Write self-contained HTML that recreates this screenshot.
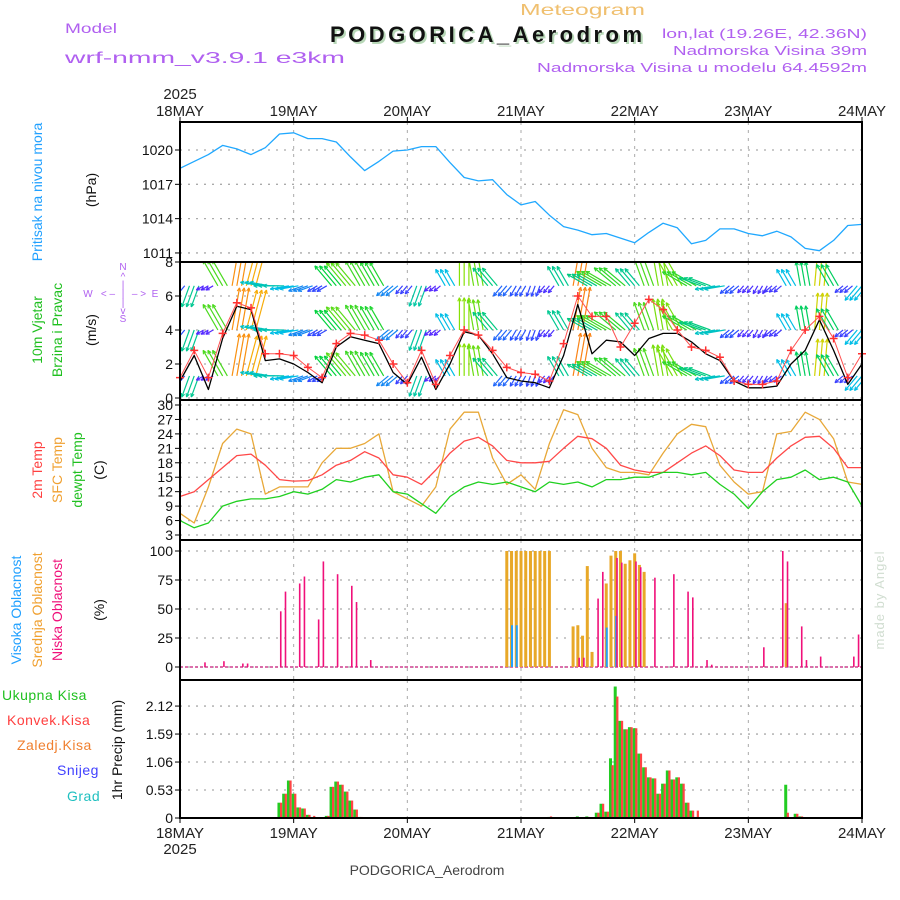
<!DOCTYPE html>
<html><head><meta charset="utf-8"><style>
html,body{margin:0;padding:0;background:#fff}
svg{display:block}
text{font-family:"Liberation Sans",sans-serif}
</style></head><body>
<svg id="chart" width="900" height="900" viewBox="0 0 900 900" xmlns="http://www.w3.org/2000/svg">
<defs><clipPath id="wclip"><rect x="180" y="262" width="682" height="138"/></clipPath></defs>
<rect width="900" height="900" fill="#fff"/>
<text x="520" y="15" font-size="16" fill="#f0c070" textLength="125" lengthAdjust="spacingAndGlyphs">Meteogram</text>
<text x="65" y="33" font-size="14" fill="#b060f0" textLength="52" lengthAdjust="spacingAndGlyphs">Model</text>
<text x="65" y="63" font-size="16" fill="#b060f0" textLength="280" lengthAdjust="spacingAndGlyphs">wrf-nmm_v3.9.1 e3km</text>
<text x="332" y="44" font-size="22" font-weight="bold" fill="#b8d8b8" font-family="Liberation Mono" textLength="312">PODGORICA_Aerodrom</text>
<text x="330" y="42" font-size="22" font-weight="bold" fill="#111" font-family="Liberation Mono" textLength="312">PODGORICA_Aerodrom</text>
<text x="662" y="38" font-size="13" fill="#b060f0" textLength="205" lengthAdjust="spacingAndGlyphs">lon,lat (19.26E, 42.36N)</text>
<text x="673" y="55" font-size="13" fill="#b060f0" textLength="194" lengthAdjust="spacingAndGlyphs">Nadmorska Visina 39m</text>
<text x="537" y="72" font-size="13" fill="#b060f0" textLength="330" lengthAdjust="spacingAndGlyphs">Nadmorska Visina u modelu 64.4592m</text>
<text x="180" y="99" font-size="15" fill="#222" text-anchor="middle">2025</text>
<text x="180" y="854" font-size="15" fill="#222" text-anchor="middle">2025</text>
<text x="427" y="875" font-size="14" fill="#444" font-family="Liberation Mono" text-anchor="middle">PODGORICA_Aerodrom</text>
<text transform="translate(884,600) rotate(-90)" font-size="13" fill="#d0ddd0" text-anchor="middle" letter-spacing="1">made by Angel</text>

<g>
<text transform="translate(42,192) rotate(-90)" font-size="14" fill="#20a0ff" text-anchor="middle">Pritisak na nivou mora</text>
<text transform="translate(96,190) rotate(-90)" font-size="14" fill="#111" text-anchor="middle">(hPa)</text>
<text transform="translate(42,330) rotate(-90)" font-size="14" fill="#20c020" text-anchor="middle">10m Vjetar</text>
<text transform="translate(62,330) rotate(-90)" font-size="14" fill="#20c020" text-anchor="middle">Brzina i Pravac</text>
<text transform="translate(96,330) rotate(-90)" font-size="14" fill="#111" text-anchor="middle">(m/s)</text>
<g font-size="10" fill="#b060f0" text-anchor="middle">
<text x="123" y="270">N</text><text x="123" y="280">^</text><text x="123" y="288">|</text>
<text x="88" y="297">W</text><text x="108" y="297">&lt; –</text><text x="123" y="297">|</text><text x="139" y="297">– &gt;</text><text x="155" y="297">E</text>
<text x="123" y="306">|</text><text x="123" y="314">v</text><text x="123" y="322">S</text>
</g>
<text transform="translate(42,470) rotate(-90)" font-size="14" fill="#ff4040" text-anchor="middle">2m Temp</text>
<text transform="translate(62,470) rotate(-90)" font-size="14" fill="#f0a030" text-anchor="middle">SFC Temp</text>
<text transform="translate(82,470) rotate(-90)" font-size="14" fill="#20c020" text-anchor="middle">dewpt Temp</text>
<text transform="translate(104,470) rotate(-90)" font-size="14" fill="#111" text-anchor="middle">(C)</text>
<text transform="translate(21,610) rotate(-90)" font-size="14" fill="#20a0ff" text-anchor="middle">Visoka Oblacnost</text>
<text transform="translate(42,610) rotate(-90)" font-size="14" fill="#f0a030" text-anchor="middle">Srednja Oblacnost</text>
<text transform="translate(62,610) rotate(-90)" font-size="14" fill="#f0107a" text-anchor="middle">Niska Oblacnost</text>
<text transform="translate(104,610) rotate(-90)" font-size="14" fill="#111" text-anchor="middle">(%)</text>
<text x="2" y="700" font-size="14" fill="#20c020" letter-spacing="0.5">Ukupna Kisa</text>
<text x="7" y="725" font-size="14" fill="#ff4040" letter-spacing="0.5">Konvek.Kisa</text>
<text x="17" y="750" font-size="14" fill="#f08030" letter-spacing="0.5">Zaledj.Kisa</text>
<text x="57" y="775" font-size="14" fill="#4040ff" letter-spacing="0.5">Snijeg</text>
<text x="67" y="801" font-size="14" fill="#20c0c0" letter-spacing="0.5">Grad</text>
<text transform="translate(122,750) rotate(-90)" font-size="14" fill="#111" text-anchor="middle">1hr Precip (mm)</text>
</g>
<g id="plot"></g>
</svg>
<script>
// ---- data (3-hourly from 18MAY 00UTC unless noted) ----
const dayLabels = ["18MAY","19MAY","20MAY","21MAY","22MAY","23MAY","24MAY"];
const pressureTicks = [1020,1017,1014,1011];
const windTicks = [8,6,4,2,0];
const tempTicks = [30,27,24,21,18,15,12,9,6,3];
const cloudTicks = [100,75,50,25,0];
const precipTicks = [2.12,1.59,1.06,0.53,0];
const pressure = [1018.4,1019.0,1019.6,1020.4,1020.1,1019.6,1020.2,1021.4,1021.5,1021.0,1021.0,1020.7,1019.4,1018.2,1019.0,1019.9,1020.0,1020.3,1020.3,1018.9,1017.6,1017.3,1017.4,1016.1,1015.2,1015.5,1014.3,1013.3,1013.0,1012.6,1012.7,1012.3,1011.9,1012.8,1013.6,1013.2,1011.8,1012.1,1013.1,1013.1,1012.7,1012.5,1012.9,1012.4,1011.4,1011.2,1012.1,1013.4,1013.5];
const temp2m = [11,12,14.5,17,19.5,19.8,17.5,14.5,14.2,14.3,15.5,17.5,18.5,20.3,19,15.5,15,13.5,16.5,20,22.5,23.3,21.5,18.5,18,18,18.3,21,23.5,23,21,17.5,16.5,16,16,18,20,21.5,19.5,16.5,16,16,19,21.5,23.3,23.5,21,17,17];
const tempSfc = [7.5,5.5,13,22,25,24,11.5,13,13,13,18,21,21,22,24,12,10.5,9,13,25,28.5,28.5,19,13.5,15.5,12.5,22,29,28,21,17,16,16,15.5,20,24,26,25.5,17.5,14,11.5,12,24,24.5,28.5,27,23,14,13.5];
const dewpt = [6,4.5,5.5,9,10,10.5,10.5,11,12,11.5,12.5,14.5,14,15,15.5,12,11.5,9.5,7.5,11,13,14,13.5,14,13,12,14,13.5,14,13,14.5,14.5,15,15,16,16,15.5,16,13.5,11.5,8.5,12,14.5,15,16.5,14.5,15,14,9];
const windSpeed = [1.0,2.5,0.5,3.5,5.4,5.2,2.2,2.3,2.0,1.5,0.9,3.0,3.6,3.4,3.2,1.5,0.8,2.4,0.5,2.0,3.9,3.7,2.6,1.2,1.0,0.9,0.6,2.5,5.5,2.6,3.4,3.3,2.5,3.5,3.8,3.8,3.3,2.6,2.2,1.0,0.6,0.6,0.7,2.0,2.8,4.6,2.8,0.8,2.0];
const windGust = [1.2,2.8,1.2,3.8,5.6,5.3,2.6,2.6,2.5,1.8,1.2,3.2,3.8,3.7,3.4,2.0,0.9,2.8,0.8,2.5,4.0,3.7,2.8,1.8,1.5,1.4,1.0,3.2,6.0,4.8,4.8,3.0,4.4,5.8,5.2,4.0,3.0,2.8,2.4,1.0,0.8,0.8,1.0,2.8,4.0,4.8,3.5,1.2,2.6];
const windDir = [220,200,240,330,10,15,280,270,260,250,240,320,320,330,330,230,220,200,230,330,0,350,320,220,210,200,220,330,10,300,300,310,320,340,350,330,300,290,260,230,220,210,230,330,350,5,330,230,220];
// cloud cover (hour index, %)
const highHours = [70,71,90,92];
const highVals = [36,36,34,44];
const midHours = [69,70,71,72,73,74,75,76,77,78,83,84,85,86,87,90,91,92,93,94,95,96,97,98,128];
const midVals = [100,100,100,100,100,100,100,100,100,100,35,36,27,87,13,72,96,100,100,89,92,98,88,82,55];
const lowHours = [5,9,13,14,21,22,25,26,29,30,33,36,37,40,84,85,88,89,92,93,96,97,100,104,107,108,111,112,123,127,128,131,132,135,142,143];
const lowVals = [4,5,3,3,48,65,72,78,41,91,80,70,56,6,8,8,59,82,94,90,91,86,77,80,65,60,6,2,17,100,91,35,6,9,9,28];
// precipitation (hour index, mm)
const precipHours = [21,22,23,24,25,26,27,28,31,32,33,34,35,36,37,38,78,84,86,88,89,90,91,92,93,94,95,96,97,98,99,100,101,102,103,104,105,106,107,108,109,128,130,131];
const precipTotal = [0.29,0.46,0.71,0.46,0.2,0.18,0.06,0.02,0.04,0.59,0.69,0.63,0.5,0.33,0.16,0.02,0.02,0.03,0.03,0.1,0.27,0.12,1.13,2.49,1.84,1.68,1.72,1.7,1.22,0.96,0.77,0.75,0.46,0.65,0.9,0.73,0.77,0.65,0.29,0.14,0.02,0.63,0.08,0.03];
const precipConv = [0.29,0.46,0.71,0.46,0.2,0.18,0.06,0.04,0.04,0.59,0.69,0.63,0.5,0.33,0.16,0.02,0.03,0.01,0.02,0.1,0.27,0.12,1.0,2.3,1.84,1.68,1.72,1.7,1.22,0.96,0.77,0.75,0.46,0.65,0.9,0.73,0.77,0.65,0.29,0.14,0.14,0.1,0.08,0.03];

// ---- axes ----
const X0=180, X1=862, NH=144;
const X = h => X0 + h*(X1-X0)/NH;
const yP = v => 150 + (1020-v)*11.44;
const yW = v => 398 - v*17;
const yT = v => 405 + (30-v)*4.815;
const yC = v => 667 - v*1.16;
const yR = v => 818 - v*52.8;
const panels = [[122,262],[262,400],[400,540],[540,680],[680,818]];
const NS="http://www.w3.org/2000/svg";
const plot=document.getElementById('plot');
function el(tag, attrs, parent){const e=document.createElementNS(NS,tag);for(const k in attrs)e.setAttribute(k,attrs[k]);(parent||plot).appendChild(e);return e;}

const grid=el('g',{});


panels.forEach(p=>{for(let d=1;d<6;d++){el('line',{x1:X(d*24),x2:X(d*24),y1:p[0],y2:p[1],stroke:'#aaa','stroke-dasharray':'3,5','stroke-width':1},grid);}});
function hgrid(ticks, yf, fmt, name){
  const g=el('g',{});
  
  
  ticks.forEach(t=>{
    const y=yf(t);
    el('line',{x1:X0,x2:X1,y1:y,y2:y,stroke:'#aaa','stroke-dasharray':'2,6','stroke-width':1.3},g);
    el('line',{x1:X0-5,x2:X0,y1:y,y2:y,stroke:'#000','stroke-width':1},g);
    const tx=el('text',{x:X0-7,y:y+5,'font-size':14,'text-anchor':'end',fill:'#111'},g);
    tx.textContent=fmt(t);
  });
}
hgrid(pressureTicks,yP,t=>t,'pressure-y-axis');
hgrid(windTicks,yW,t=>t,'wind-y-axis');
hgrid(tempTicks,yT,t=>t,'temp-y-axis');
hgrid(cloudTicks,yC,t=>t,'cloud-y-axis');
hgrid(precipTicks,yR,t=>t,'precip-y-axis');

dayLabels.forEach((d,i)=>{
  const a=el('text',{x:X(i*24),y:116,'font-size':15,'text-anchor':'middle',fill:'#222'});
  
  
  a.textContent=d;
  const b=el('text',{x:X(i*24),y:838,'font-size':15,'text-anchor':'middle',fill:'#222'});
  
  
  b.textContent=d;
  el('line',{x1:X(i*24),x2:X(i*24),y1:117,y2:122,stroke:'#000'});
  el('line',{x1:X(i*24),x2:X(i*24),y1:818,y2:823,stroke:'#000'});
});

function line(vals, yf, color, name, w){
  const pts=vals.map((v,i)=>X(i*3).toFixed(1)+','+yf(v).toFixed(1)).join(' ');
  const pl=el('polyline',{points:pts,fill:'none',stroke:color,'stroke-width':w||1.3,'stroke-linejoin':'round'});
  
  
}
line(pressure,yP,'#20a8ff','pressure-line');
line(tempSfc,yT,'#e8a838','sfc-temp-line');
line(temp2m,yT,'#ff4848','temp-2m-line');
line(dewpt,yT,'#20d020','dewpoint-line');

function spdColor(s){
  const stops=[[0,[128,0,255]],[1,[40,80,255]],[2,[0,190,230]],[3,[0,210,60]],[4,[150,225,0]],[5,[245,200,0]],[6,[255,60,40]]];
  s=Math.max(0,Math.min(6,s));
  for(let i=0;i<stops.length-1;i++){if(s<=stops[i+1][0]){const f=(s-stops[i][0]);const a=stops[i][1],b=stops[i+1][1];return 'rgb('+a.map((c,j)=>Math.round(c+(b[j]-c)*f)).join(',')+')';}}
  return 'rgb(255,60,40)';
}
const wg=el('g',{'clip-path':'url(#wclip)'});


const rowBases=[6.6,4.0,1.3];
rowBases.forEach(base=>{
  windSpeed.forEach((s,i)=>{
    const b=windDir[i]*Math.PI/180, len=s*7+5;
    const c=spdColor(s);
    [-1,0,1].forEach(dh=>{
      const x0=X(i*3+dh), y0=yW(base);
      const x1=x0+len*Math.sin(b), y1=y0-len*Math.cos(b);
      const a=el('line',{x1:x0,y1:y0,x2:x1,y2:y1,stroke:c,'stroke-width':1.2},wg);
      
      
      [2.6,-2.6].forEach(o=>{const ang=b+Math.PI+o*0.17;el('line',{x1:x1,y1:y1,x2:x1+4*Math.sin(ang),y2:y1-4*Math.cos(ang),stroke:c,'stroke-width':1.1},wg);});
    });
  });
});
line(windSpeed,yW,'#000','wind-speed-line',1.3);
const gl=el('polyline',{points:windGust.map((v,i)=>X(i*3).toFixed(1)+','+yW(v).toFixed(1)).join(' '),fill:'none',stroke:'#ff5050','stroke-width':1});


windGust.forEach((v,i)=>{
  const x=X(i*3),y=yW(v);
  const p=el('path',{d:`M${x-4},${y}H${x+4}M${x},${y-4}V${y+4}`,stroke:'#ff3030','stroke-width':1.5});
  
  
});

el('line',{x1:X0,x2:X1,y1:yC(0),y2:yC(0),stroke:'#d04090','stroke-width':1.5,'stroke-dasharray':'3,2'});
function bars(hours, vals, yf, off, w, color, name){
  hours.forEach((h,i)=>{
    const y=yf(vals[i]), y0=yf(0);
    const r=el('rect',{x:X(h)+off,y:y,width:w,height:Math.max(0,y0-y),fill:color});
    
    
  });
}
bars(midHours,midVals,yC,-1.5,3,'#e8a828','mid-cloud-bar');
bars(highHours,highVals,yC,-0.5,2,'#20a0ff','high-cloud-bar');
bars(lowHours,lowVals,yC,0.5,1.6,'#f0107a','low-cloud-bar');
bars(precipHours,precipTotal,yR,-2,3,'#22cc22','total-precip-bar');
bars(precipHours,precipConv,yR,0.5,2.2,'#ff4444','convective-precip-bar');

panels.forEach((p,i)=>{
  const r=el('rect',{x:X0,y:p[0],width:X1-X0,height:p[1]-p[0],fill:'none',stroke:'#000','stroke-width':2});
  
  
});
</script>
</body></html>
